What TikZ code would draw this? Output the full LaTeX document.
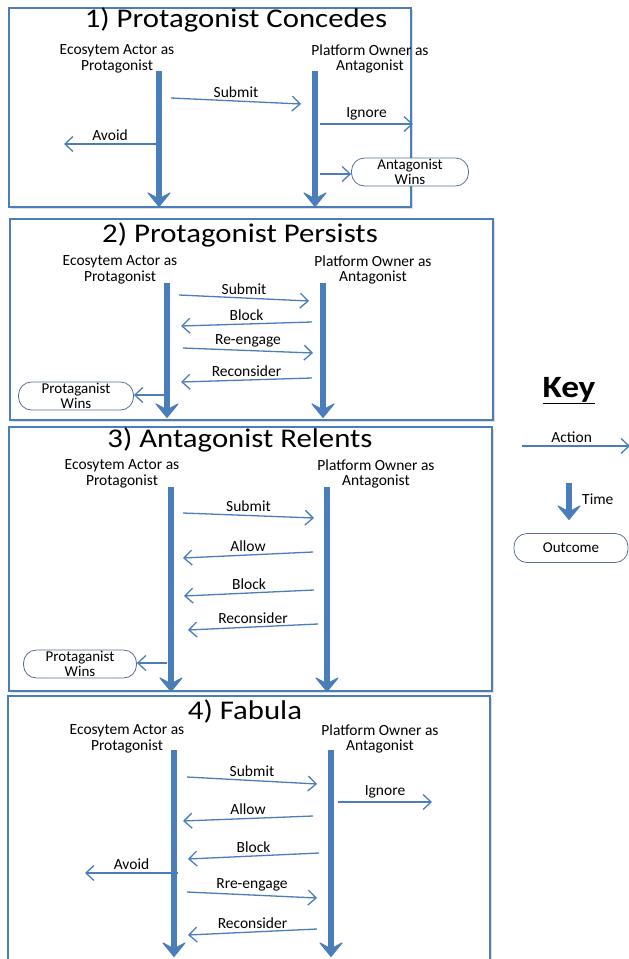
\documentclass[tikz,border=0pt]{standalone}
\usepackage{fontspec}
\setmainfont{Carlito}
\newfontfamily\widefont{Carlito}[FakeStretch=1.14]
\usetikzlibrary{arrows.meta,shadows}
\definecolor{actblue}{RGB}{74,126,187}
\definecolor{outline}{RGB}{90,112,150}

\begin{document}
\begin{tikzpicture}[x=1pt,y=-1pt]
  \tikzset{frame/.style = {draw=actblue, line width=2pt, fill=white,
      drop shadow={opacity=0.25, shadow xshift=1.5pt, shadow yshift=-2pt}}}
  \tikzset{title/.style = {font=\widefont\fontsize{27}{30}\selectfont, inner sep=0pt, anchor=base}}
  \tikzset{actor/.style = {font=\fontsize{15.5}{15.5}\selectfont, align=center, inner sep=0pt}}
  \tikzset{lbl/.style = {font=\fontsize{15.5}{16}\selectfont, midway, above, inner sep=1pt, yshift=2pt}}
  \tikzset{act/.style = {draw=actblue, line width=1.3pt, -{Straight Barb[length=8pt,width=15pt]}}}
  \tikzset{lifeline/.style = {draw=actblue, line width=5.5pt,
      -{Stealth[length=16pt,width=26pt,inset=7pt,line width=1pt,round]}}}
  \tikzset{outcome/.style = {draw=outline, line width=0.8pt, rounded corners=13pt, fill=white,
      minimum height=28pt, font=\fontsize{15}{15}\selectfont, align=center, inner sep=0pt}}

\useasboundingbox (0,0) rectangle (629,959);

%% 1) Protagonist Concedes
\draw[frame] (9,8) rectangle (411,207);
\node[title] (t1) at (236,27) {1) Protagonist Concedes};
\node[actor] (eco1) at (117,59) {Ecosytem Actor as\\Protagonist};
\node[actor] (plat1) at (370,59) {Platform Owner as\\Antagonist};
\coordinate (e1t) at (159,71);  \coordinate (e1b) at (159,207);
\coordinate (p1t) at (315,71);  \coordinate (p1b) at (315,207);
\draw[lifeline] (e1t) -- (e1b);
\draw[lifeline] (p1t) -- (p1b);

\coordinate (sub1a) at (171,98);  \coordinate (sub1b) at (301,104);
\coordinate (ign1a) at (320,124); \coordinate (ign1b) at (413,124);
\coordinate (avo1a) at (156,144); \coordinate (avo1b) at (64,144);
\coordinate (win1a) at (320,174);
\draw[act] (sub1a) -- node[lbl]{Submit} (sub1b);
\draw[act] (ign1a) -- node[lbl]{Ignore} (ign1b);
\draw[act] (avo1a) -- node[lbl]{Avoid} (avo1b);
\node[outcome, minimum width=117pt] (aw1) at (410,172) {Antagonist\\Wins};
\draw[act] (win1a) -- (win1a -| aw1.west);

%% 2) Protagonist Persists
\draw[frame] (10,219) rectangle (493,420);
\node[title] (t2) at (240,242) {2) Protagonist Persists};
\node[actor] (eco2) at (120,270) {Ecosytem Actor as\\Protagonist};
\node[actor] (plat2) at (373,270) {Platform Owner as\\Antagonist};
\coordinate (e2t) at (167,283);  \coordinate (e2b) at (167,418);
\coordinate (p2t) at (323,283);  \coordinate (p2b) at (323,418);
\draw[lifeline] (e2t) -- (e2b);
\draw[lifeline] (p2t) -- (p2b);

\coordinate (sub2a) at (179,295); \coordinate (sub2b) at (309,301);
\coordinate (blk2a) at (312,322); \coordinate (blk2b) at (181,326);
\coordinate (ree2a) at (183,348); \coordinate (ree2b) at (313,353);
\coordinate (rec2a) at (312,378); \coordinate (rec2b) at (181,382);
\coordinate (win2a) at (164,395);
\draw[act] (sub2a) -- node[lbl]{Submit} (sub2b);
\draw[act] (blk2a) -- node[lbl]{Block} (blk2b);
\draw[act] (ree2a) -- node[lbl]{Re-engage} (ree2b);
\draw[act] (rec2a) -- node[lbl]{Reconsider} (rec2b);
\node[outcome, minimum width=115pt] (pw2) at (76,396) {Protaganist\\Wins};
\draw[act] (win2a) -- (win2a -| pw2.east);

%% 3) Antagonist Relents
\draw[frame] (9,427) rectangle (492,691);
\node[title] (t3) at (240,447) {3) Antagonist Relents};
\node[actor] (eco3) at (122,474) {Ecosytem Actor as\\Protagonist};
\node[actor] (plat3) at (376,474) {Platform Owner as\\Antagonist};
\coordinate (e3t) at (171,487);  \coordinate (e3b) at (171,692);
\coordinate (p3t) at (327,487);  \coordinate (p3b) at (327,692);
\draw[lifeline] (e3t) -- (e3b);
\draw[lifeline] (p3t) -- (p3b);

\coordinate (sub3a) at (183,513); \coordinate (sub3b) at (314,518);
\coordinate (all3a) at (313,552); \coordinate (all3b) at (183,558);
\coordinate (blk3a) at (314,590); \coordinate (blk3b) at (184,596);
\coordinate (rec3a) at (318,624); \coordinate (rec3b) at (188,630);
\coordinate (win3a) at (167,663);
\draw[act] (sub3a) -- node[lbl]{Submit} (sub3b);
\draw[act] (all3a) -- node[lbl]{Allow} (all3b);
\draw[act] (blk3a) -- node[lbl]{Block} (blk3b);
\draw[act] (rec3a) -- node[lbl]{Reconsider} (rec3b);
\node[outcome, minimum width=113pt] (pw3) at (80,664) {Protaganist\\Wins};
\draw[act] (win3a) -- (win3a -| pw3.east);

%% 4) Fabula
\draw[frame] (8,696) rectangle (490,975);
\node[title] (t4) at (245,719) {4) Fabula};
\node[actor] (eco4) at (127,739) {Ecosytem Actor as\\Protagonist};
\node[actor] (plat4) at (380,739) {Platform Owner as\\Antagonist};
\coordinate (e4t) at (174,750);  \coordinate (e4b) at (174,957);
\coordinate (p4t) at (331,750);  \coordinate (p4b) at (331,957);
\draw[lifeline] (e4t) -- (e4b);
\draw[lifeline] (p4t) -- (p4b);

\coordinate (sub4a) at (187,777); \coordinate (sub4b) at (317,784);
\coordinate (ign4a) at (338,802); \coordinate (ign4b) at (432,802);
\coordinate (all4a) at (313,816); \coordinate (all4b) at (183,821);
\coordinate (blk4a) at (319,853); \coordinate (blk4b) at (188,859);
\coordinate (avo4a) at (178,873); \coordinate (avo4b) at (85,873);
\coordinate (ree4a) at (187,892); \coordinate (ree4b) at (317,898);
\coordinate (rec4a) at (317,929); \coordinate (rec4b) at (188,935);
\draw[act] (sub4a) -- node[lbl]{Submit} (sub4b);
\draw[act] (ign4a) -- node[lbl]{Ignore} (ign4b);
\draw[act] (all4a) -- node[lbl]{Allow} (all4b);
\draw[act] (blk4a) -- node[lbl]{Block} (blk4b);
\draw[act] (avo4a) -- node[lbl]{Avoid} (avo4b);
\draw[act] (ree4a) -- node[lbl]{Rre-engage} (ree4b);
\draw[act] (rec4a) -- node[lbl]{Reconsider} (rec4b);

%% Key
\node[font=\widefont\fontsize{31}{34}\selectfont\bfseries, inner sep=0pt, anchor=base] (key) at (569,397) {\underline{Key}};
\coordinate (k1a) at (522,446); \coordinate (k1b) at (630,446);
\draw[act] (k1a) -- node[lbl, pos=0.46]{Action} (k1b);
\coordinate (k2a) at (569,483); \coordinate (k2b) at (569,520);
\draw[lifeline] (k2a) -- (k2b);
\node[actor, anchor=west] (time) at (582,499) {Time};
\node[outcome, minimum width=114pt, minimum height=29pt] (oc) at (571,548) {Outcome};

\end{tikzpicture}
\end{document}
